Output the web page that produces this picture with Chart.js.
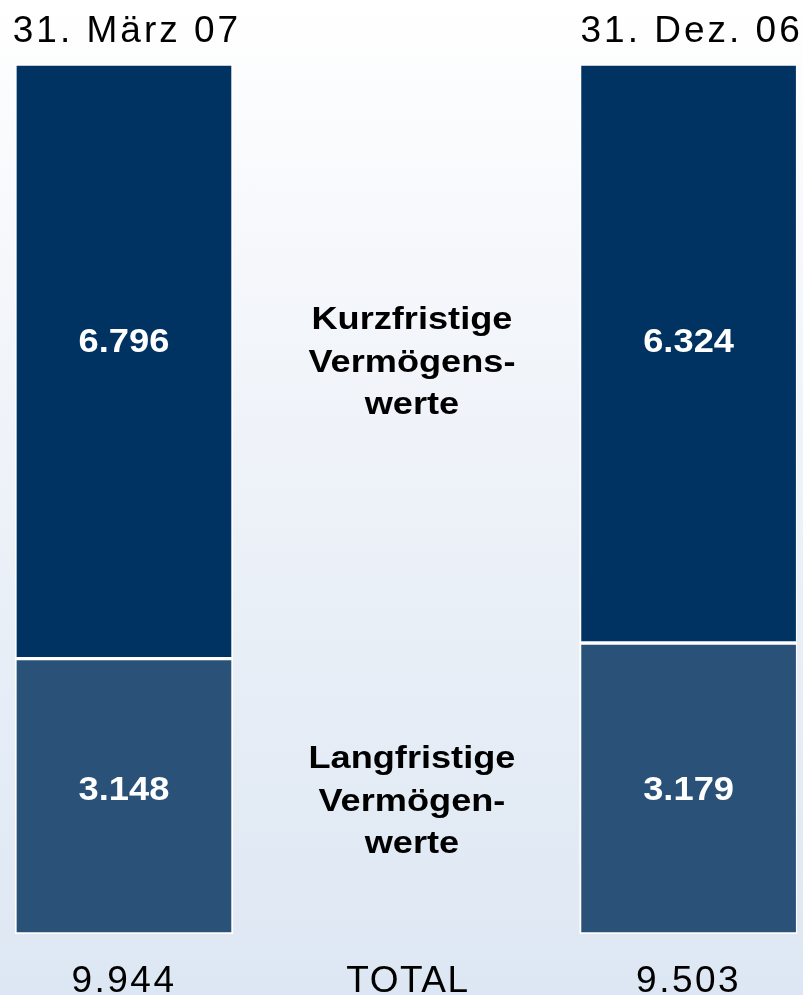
<!DOCTYPE html>
<html>
<head>
<meta charset="utf-8">
<script src="https://cdn.jsdelivr.net/npm/chart.js@4/dist/chart.umd.min.js"></script>
<style>
  html, body { margin: 0; padding: 0; }
  body {
    width: 803px; height: 995px; overflow: hidden;
    background: linear-gradient(to bottom, #ffffff 0%, #f2f5fa 35%, #dde7f3 100%);
  }
  #wrap { width: 803px; height: 995px; }
</style>
</head>
<body>
<div id="wrap"><canvas id="assetChart" width="803" height="995"></canvas></div>
<script>
// Chart data
const dates = ["31. März 07", "31. Dez. 06"];
const shortTerm = [6796, 6324];   // Kurzfristige Vermögenswerte
const longTerm = [3148, 3179];    // Langfristige Vermögenswerte
const totals = [9944, 9503];
const shortLabel = ["Kurzfristige", "Vermögens-", "werte"];
const longLabel = ["Langfristige", "Vermögen-", "werte"];
const totalLabel = "TOTAL";

// each column is drawn as 100 %
const shortShare = shortTerm.map((v, i) => v / totals[i] * 100);
const longShare = longTerm.map((v, i) => v / totals[i] * 100);

function fmt(n) {
  return String(n).replace(/\B(?=(\d{3})+(?!\d))/g, ".");
}

function stretchText(ctx, text, x, y, sx) {
  ctx.save();
  ctx.translate(x, y);
  ctx.scale(sx, 1);
  ctx.fillText(text, 0, 0);
  ctx.restore();
}

const labelPlugin = {
  id: "labelPlugin",
  afterDatasetsDraw(chart) {
    const ctx = chart.ctx;
    const xs = chart.scales.x;
    const low = chart.getDatasetMeta(0).data;
    const high = chart.getDatasetMeta(1).data;
    const midX = xs.getPixelForValue(0.51);

    ctx.save();
    ctx.textAlign = "center";
    ctx.textBaseline = "alphabetic";

    // dates above, totals below
    ctx.fillStyle = "#000000";
    ctx.font = "37px 'Liberation Sans', Arial, sans-serif";
    ctx.letterSpacing = "3px";
    dates.forEach((d, i) => ctx.fillText(d, high[i].x + 3, 42));
    ctx.letterSpacing = "2.5px";
    totals.forEach((t, i) => ctx.fillText(fmt(t), low[i].x, 992));
    ctx.letterSpacing = "1.5px";
    ctx.fillText(totalLabel, midX - 4, 992);
    ctx.letterSpacing = "0px";

    // values inside the bars
    ctx.fillStyle = "#ffffff";
    ctx.font = "bold 33px 'Liberation Sans', Arial, sans-serif";
    high.forEach((bar, i) => stretchText(ctx, fmt(shortTerm[i]), bar.x, 352, 1.1));
    const lowY = (low[1].y + low[1].base) / 2 + 12;
    low.forEach((bar, i) => stretchText(ctx, fmt(longTerm[i]), bar.x, lowY, 1.1));

    // series names in the middle, centred on the left column's segments
    ctx.fillStyle = "#000000";
    ctx.font = "bold 32px 'Liberation Sans', Arial, sans-serif";
    const hMid = (high[0].y + high[0].base) / 2;
    const lMid = (low[0].y + low[0].base) / 2;
    shortLabel.forEach((s, k) => stretchText(ctx, s, midX, hMid - 32 + k * 42.5, 1.13));
    longLabel.forEach((s, k) => stretchText(ctx, s, midX, lMid - 28 + k * 42.5, 1.13));
    ctx.restore();
  }
};

const ctx = document.getElementById("assetChart");
new Chart(ctx, {
  type: "bar",
  data: {
    datasets: [
      {
        label: "Langfristige Vermögenswerte",
        data: longShare.map((v, i) => ({ x: i, y: v })),
        backgroundColor: "#2a5279",
        borderColor: "#ffffff",
        borderWidth: 2,
        borderSkipped: false,
        barThickness: 218
      },
      {
        label: "Kurzfristige Vermögenswerte",
        data: shortShare.map((v, i) => ({ x: i, y: v })),
        backgroundColor: "#003361",
        borderColor: "#ffffff",
        borderWidth: 2,
        borderSkipped: false,
        barThickness: 218
      }
    ]
  },
  options: {
    responsive: false,
    animation: false,
    layout: { padding: { top: 64, bottom: 61, left: 15, right: 6 } },
    plugins: { legend: { display: false }, tooltip: { enabled: false } },
    scales: {
      x: { type: "linear", stacked: true, display: false, min: -0.193, max: 1.192, offset: false },
      y: { stacked: true, display: false, min: 0, max: 100 }
    }
  },
  plugins: [labelPlugin]
});
</script>
</body>
</html>
